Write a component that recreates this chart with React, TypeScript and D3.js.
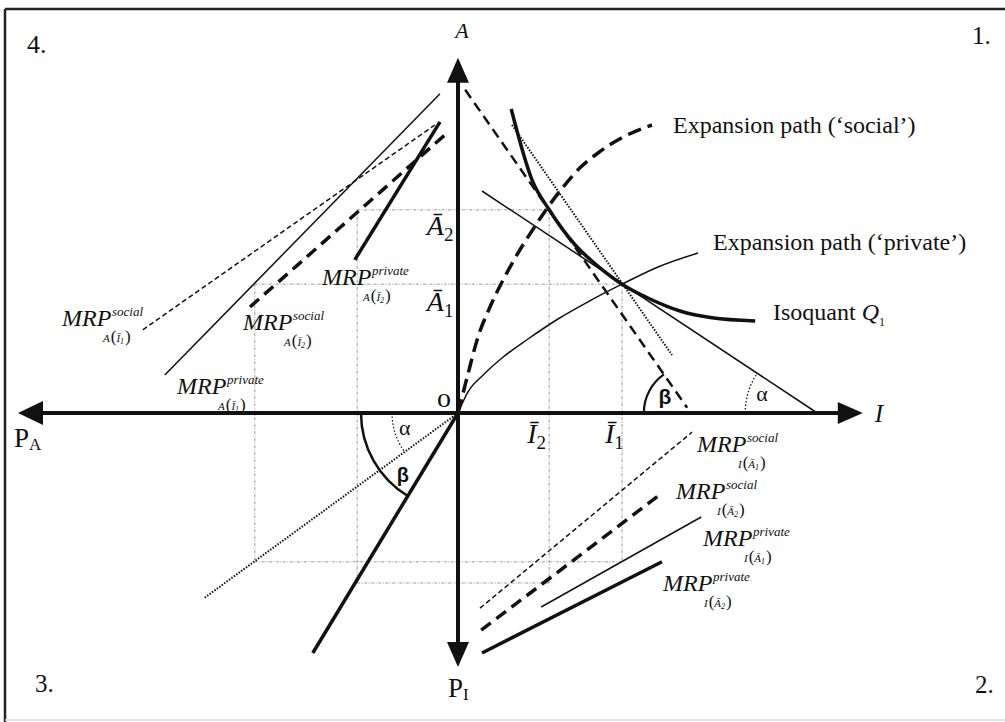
import React from "react";
import * as d3 from "d3";

// canvas
const W = 1005;
const H = 722;

// axis extents in chart units (1 unit = 40px): P_A .. I and P_I .. A
const axisI = [-11, 10.12];
const axisA = [-6.35, 8.88];

// levels, index 0 = "1", index 1 = "2"
const aBar = [3.22, 5.08]; // Ā1, Ā2
const iBar = [4.1, 2.28]; // Ī1, Ī2
const pA = [-5.08, -2.52]; // P_A at Ī1, Ī2
const pI = [-3.72, -4.25]; // P_I at Ā1, Ā2

// quadrant 1
const isoquantQ1 = [
  [1.33, 7.6], [1.85, 5.83], [2.28, 5.08], [2.93, 4.2], [3.55, 3.63],
  [4.1, 3.22], [4.8, 2.85], [5.55, 2.55], [6.35, 2.38], [7.43, 2.3],
];
const expansionSocial = [
  [0, 0], [0.23, 0.9], [0.5, 1.9], [0.8, 2.65], [1.13, 3.33], [1.5, 4.0],
  [1.88, 4.6], [2.25, 5.15], [2.63, 5.65], [3.05, 6.13], [3.5, 6.5], [4.13, 6.9], [4.85, 7.2],
];
const expansionPrivate = [
  [0, 0], [0.25, 0.53], [0.63, 0.95], [1.13, 1.4], [1.75, 1.85], [2.5, 2.35],
  [3.25, 2.78], [4.1, 3.22], [5.0, 3.65], [6.0, 4.0],
];
const priceLinePrivate = [[0.6, 5.55], [8.98, 0]];
const priceLineSocial = [[0.18, 8.08], [5.73, 0.13]];
const priceLineSocialShift = [[1.35, 7.2], [5.35, 1.45]];

// quadrant 4 (MRP of A)
const mrpAPrivateI1 = [[-7.33, 0.95], [-0.45, 7.98]];
const mrpASocialI1 = [[-7.88, 2.08], [-0.58, 7.2]];
const mrpASocialI2 = [[-5.2, 2.65], [-0.33, 6.95]];
const mrpAPrivateI2 = [[-2.58, 3.83], [-0.45, 7.28]];

// quadrant 2 (MRP of I)
const mrpISocialA1 = [[0.55, -4.88], [5.85, -0.48]];
const mrpISocialA2 = [[0.58, -5.43], [5.1, -2.0]];
const mrpIPrivateA1 = [[2.08, -4.85], [6.08, -2.6]];
const mrpIPrivateA2 = [[0.6, -6.0], [5.1, -3.72]];

// quadrant 3 (price rays)
const raySocial = [[0, 0], [-3.63, -6.0]];
const rayPrivate = [[0, 0], [-6.35, -4.63]];

const serif = "'Liberation Serif', 'Times New Roman', serif";
const sans = "'Liberation Sans', Arial, sans-serif";

function MRPLabel({ px, py, sup, v, arg, k }) {
  return (
    <g transform={`translate(${px},${py})`} fontFamily={serif} fontStyle="italic" fill="#111">
      <text x={0} y={0} fontSize={24}>MRP</text>
      <text x={50} y={-10} fontSize={13}>{sup}</text>
      <text x={41} y={16} fontSize={11}>
        {v}
        <tspan fontSize={17} fontStyle="normal" dx={1}>(</tspan>
        <tspan>{arg}</tspan>
        <tspan fontSize={8} dy={2}>{k}</tspan>
        <tspan fontSize={17} fontStyle="normal" dy={-2} dx={1}>)</tspan>
      </text>
    </g>
  );
}

function BarLabel({ px, py, letter, k }) {
  // big italic letter with overbar and subscript
  return (
    <g fontFamily={serif} fill="#111">
      <text x={px} y={py} fontSize={28} fontStyle="italic">
        {letter}
        <tspan fontSize={19} fontStyle="normal" dy={6}>{k}</tspan>
      </text>
    </g>
  );
}

export default function App() {
  const x = d3.scaleLinear().domain([0, 1]).range([458, 498]);
  const y = d3.scaleLinear().domain([0, 1]).range([413, 373]);
  const line = d3.line<number[]>().x((d) => x(d[0])).y((d) => y(d[1]));
  const smooth = d3
    .line<number[]>()
    .x((d) => x(d[0]))
    .y((d) => y(d[1]))
    .curve(d3.curveMonotoneX);

  const ox = x(0);
  const oy = y(0);

  // angle arc between the horizontal axis and a line, centred on a point
  const arcPath = (cx, cy, r, a0, a1) => {
    let d = a1 - a0;
    while (d > Math.PI) d -= 2 * Math.PI;
    while (d <= -Math.PI) d += 2 * Math.PI;
    const p = d3.path();
    p.moveTo(cx + r * Math.cos(a0), cy + r * Math.sin(a0));
    p.arc(cx, cy, r, a0, a0 + d, d < 0);
    return p.toString();
  };
  const xIntercept = (l) => l[0][0] - (l[0][1] * (l[1][0] - l[0][0])) / (l[1][1] - l[0][1]);
  const dirAngle = (from, to) => Math.atan2(y(to[1]) - y(from[1]), x(to[0]) - x(from[0]));

  // Q1 angle centres
  const betaC = xIntercept(priceLineSocial);
  const alphaC = xIntercept(priceLinePrivate);
  const betaQ1 = arcPath(x(betaC), oy, 47, Math.PI, dirAngle([betaC, 0], priceLineSocial[0]));
  const alphaQ1 = arcPath(x(alphaC), oy, 72, Math.PI, dirAngle([alphaC, 0], priceLinePrivate[0]));
  const betaQ3 = arcPath(ox, oy, 97, Math.PI, dirAngle(raySocial[0], raySocial[1]));
  const alphaQ3 = arcPath(ox, oy, 66, Math.PI, dirAngle(rayPrivate[0], rayPrivate[1]));

  // dotted guide rectangles
  const guides = [];
  [0, 1].forEach((k) => {
    guides.push([[pA[k], aBar[k]], [iBar[k], aBar[k]]]);
    guides.push([[iBar[k], aBar[k]], [iBar[k], pI[k]]]);
    guides.push([[pA[k], aBar[k]], [pA[k], pI[k]]]);
    guides.push([[pA[k], pI[k]], [iBar[k], pI[k]]]);
  });

  const left = x(axisI[0]);
  const right = x(axisI[1]);
  const top = y(axisA[1]);
  const bottom = y(axisA[0]);
  const ah = 25;
  const aw = 11;

  const thinDash = "5 3";
  const thickDash = "12 7";

  return (
    <div style={{ position: "absolute", left: 0, top: 0 }}>
      <svg width={W} height={H} style={{ display: "block", background: "#fff" }}>
        {/* frame */}
        <line x1={5} y1={9} x2={W} y2={9} stroke="#222" strokeWidth={2.5} />
        <line x1={5} y1={9} x2={5} y2={H} stroke="#222" strokeWidth={2.5} />
        <line x1={5} y1={720} x2={W} y2={720} stroke="#ddd" strokeWidth={1.5} />

        {/* guides */}
        {guides.map((g, i) => (
          <path key={i} d={line(g)} fill="none" stroke="#999" strokeWidth={1} strokeDasharray="3 1.5 1 1.5" />
        ))}

        {/* quadrant 1 */}
        <path d={line(priceLinePrivate)} fill="none" stroke="#111" strokeWidth={1.5} />
        <path d={line(priceLineSocial)} fill="none" stroke="#111" strokeWidth={2.5} strokeDasharray="10 6" />
        <path d={line(priceLineSocialShift)} fill="none" stroke="#111" strokeWidth={2} strokeDasharray="1.5 1.5" />
        <path d={smooth(expansionPrivate)} fill="none" stroke="#111" strokeWidth={1.5} />
        <path d={smooth(expansionSocial)} fill="none" stroke="#111" strokeWidth={3.5} strokeDasharray="14 7" />
        <path d={smooth(isoquantQ1)} fill="none" stroke="#111" strokeWidth={3.5} />
        <path d={betaQ1} fill="none" stroke="#111" strokeWidth={2.2} />
        <path d={alphaQ1} fill="none" stroke="#111" strokeWidth={1.3} strokeDasharray="1.5 2" />

        {/* quadrant 4 */}
        <path d={line(mrpAPrivateI1)} fill="none" stroke="#111" strokeWidth={1.5} />
        <path d={line(mrpASocialI1)} fill="none" stroke="#111" strokeWidth={1.5} strokeDasharray={thinDash} />
        <path d={line(mrpASocialI2)} fill="none" stroke="#111" strokeWidth={3.5} strokeDasharray={thickDash} />
        <path d={line(mrpAPrivateI2)} fill="none" stroke="#111" strokeWidth={3.5} />

        {/* quadrant 2 */}
        <path d={line(mrpISocialA1)} fill="none" stroke="#111" strokeWidth={1.5} strokeDasharray={thinDash} />
        <path d={line(mrpISocialA2)} fill="none" stroke="#111" strokeWidth={3.5} strokeDasharray={thickDash} />
        <path d={line(mrpIPrivateA1)} fill="none" stroke="#111" strokeWidth={1.5} />
        <path d={line(mrpIPrivateA2)} fill="none" stroke="#111" strokeWidth={3.5} />

        {/* quadrant 3 */}
        <path d={line(raySocial)} fill="none" stroke="#111" strokeWidth={3.5} />
        <path d={line(rayPrivate)} fill="none" stroke="#111" strokeWidth={2} strokeDasharray="1.5 1.5" />
        <path d={betaQ3} fill="none" stroke="#111" strokeWidth={2.5} />
        <path d={alphaQ3} fill="none" stroke="#111" strokeWidth={1.2} strokeDasharray="1.5 2" />

        {/* axes */}
        <line x1={left + ah - 2} y1={oy} x2={right - ah + 2} y2={oy} stroke="#111" strokeWidth={4} />
        <line x1={ox} y1={top + ah - 2} x2={ox} y2={bottom - ah + 2} stroke="#111" strokeWidth={4} />
        <polygon points={`${right},${oy} ${right - ah},${oy - aw} ${right - ah},${oy + aw}`} fill="#111" />
        <polygon points={`${left},${oy} ${left + ah},${oy - aw - 1} ${left + ah},${oy + aw + 1}`} fill="#111" />
        <polygon points={`${ox},${top} ${ox - aw},${top + ah} ${ox + aw},${top + ah}`} fill="#111" />
        <polygon points={`${ox},${bottom} ${ox - aw},${bottom - ah} ${ox + aw},${bottom - ah}`} fill="#111" />

        {/* axis labels */}
        <g fontFamily={serif} fill="#111">
          <text x={ox + 4} y={38} fontSize={22} fontStyle="italic" textAnchor="middle">A</text>
          <text x={right + 12} y={422} fontSize={25} fontStyle="italic">I</text>
          <text x={14} y={447} fontSize={27}>
            P<tspan fontSize={17} dy={3}>A</tspan>
          </text>
          <text x={448} y={697} fontSize={27}>
            P<tspan fontSize={17} dy={3}>I</tspan>
          </text>
          <text x={437} y={407} fontSize={28}>o</text>
          <text x={27} y={53} fontSize={26}>4.</text>
          <text x={972} y={44} fontSize={25}>1.</text>
          <text x={35} y={692} fontSize={25}>3.</text>
          <text x={975} y={693} fontSize={25}>2.</text>
        </g>

        <BarLabel px={x(-0.78)} py={y(aBar[1]) + 25} letter="Ā" k="2" />
        <BarLabel px={x(-0.78)} py={y(aBar[0]) + 27} letter="Ā" k="1" />
        <BarLabel px={x(iBar[1]) - 22} py={443} letter="Ī" k="2" />
        <BarLabel px={x(iBar[0]) - 17} py={443} letter="Ī" k="1" />

        {/* angle labels */}
        <g fill="#111">
          <text x={x(5.175)} y={y(0.375)} fontFamily={sans} fontWeight="bold" fontSize={21} textAnchor="middle" dominantBaseline="middle">β</text>
          <text x={x(7.6)} y={y(0.43)} fontFamily={serif} fontSize={22} textAnchor="middle" dominantBaseline="middle">α</text>
          <text x={x(-1.33)} y={y(-0.42)} fontFamily={serif} fontSize={22} textAnchor="middle" dominantBaseline="middle">α</text>
          <text x={x(-1.38)} y={y(-1.6)} fontFamily={sans} fontWeight="bold" fontSize={20} textAnchor="middle" dominantBaseline="middle">β</text>
        </g>

        {/* curve labels */}
        <g fontFamily={serif} fill="#111" fontSize={24}>
          <text x={673} y={133}>Expansion path (‘social’)</text>
          <text x={713} y={250}>Expansion path (‘private’)</text>
          <text x={773} y={320}>
            Isoquant <tspan fontStyle="italic">Q</tspan>
            <tspan fontSize={12} dy={6}>1</tspan>
          </text>
        </g>

        {/* MRP labels */}
        <MRPLabel px={62} py={326} sup="social" v="A" arg="Ī" k="1" />
        <MRPLabel px={243} py={330} sup="social" v="A" arg="Ī" k="2" />
        <MRPLabel px={177} py={394} sup="private" v="A" arg="Ī" k="1" />
        <MRPLabel px={322} py={285} sup="private" v="A" arg="Ī" k="2" />
        <MRPLabel px={697} py={452} sup="social" v="I" arg="Ā" k="1" />
        <MRPLabel px={676} py={499} sup="social" v="I" arg="Ā" k="2" />
        <MRPLabel px={703} py={546} sup="private" v="I" arg="Ā" k="1" />
        <MRPLabel px={663} py={591} sup="private" v="I" arg="Ā" k="2" />
      </svg>
    </div>
  );
}
